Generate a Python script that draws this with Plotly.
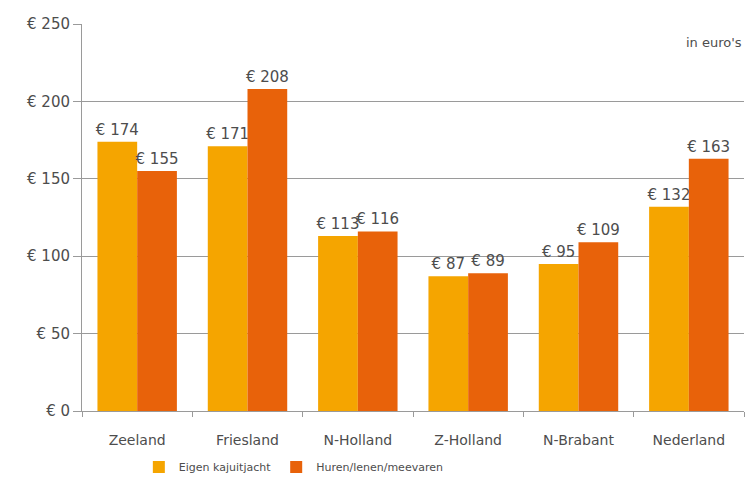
import plotly.graph_objects as go

categories = ["Zeeland", "Friesland", "N-Holland", "Z-Holland", "N-Brabant", "Nederland"]
eigen = [174, 171, 113, 87, 95, 132]
huren = [155, 208, 116, 89, 109, 163]
series_names = ["Eigen kajuitjacht", "Huren/lenen/meevaren"]
y_ticks = [0, 50, 100, 150, 200, 250]
y_tick_labels = ["€ " + str(v) for v in y_ticks]

font_family = "DejaVu Sans"
text_color = "#4d4d4d"

fig = go.Figure()
fig.add_trace(go.Bar(
    x=categories, y=eigen, name=series_names[0],
    marker=dict(color="#F5A500", line=dict(width=0)),
    text=["€ " + str(v) for v in eigen], textposition="outside",
    constraintext="none",
    textfont=dict(family=font_family, size=15, color=text_color),
    cliponaxis=False,
))
fig.add_trace(go.Bar(
    x=categories, y=huren, name=series_names[1],
    marker=dict(color="#E8620A", line=dict(width=0)),
    text=["€ " + str(v) for v in huren], textposition="outside",
    constraintext="none",
    textfont=dict(family=font_family, size=15, color=text_color),
    cliponaxis=False,
))

fig.update_layout(
    width=747, height=484,
    margin=dict(l=82, r=3, t=24, b=72),
    paper_bgcolor="white", plot_bgcolor="white",
    barmode="group", bargap=0.28, bargroupgap=0,
    font=dict(family=font_family, size=12, color=text_color),
    showlegend=True,
    legend=dict(orientation="h", x=0.32, xanchor="center", y=-0.142, yanchor="middle",
                font=dict(size=11, color=text_color),
                traceorder="normal"),
    annotations=[dict(text="in euro's", xref="paper", yref="paper", x=1.0, y=0.953,
                      xanchor="right", yanchor="middle", showarrow=False,
                      font=dict(size=13, color=text_color))],
)
fig.update_xaxes(
    showline=True, linecolor="#9a9a9a", linewidth=1,
    ticks="outside", tickson="boundaries", ticklen=5, tickcolor="#9a9a9a",
    tickfont=dict(size=14, color=text_color), ticklabelstandoff=16,
    showgrid=False, automargin=False,
)
fig.update_yaxes(
    range=[0, 250], tickvals=y_ticks, ticktext=y_tick_labels,
    showline=True, linecolor="#9a9a9a", linewidth=1,
    ticks="outside", ticklen=8, tickcolor="#9a9a9a",
    showgrid=True, gridcolor="#9a9a9a", gridwidth=1,
    tickfont=dict(size=15, color=text_color), zeroline=False,
    automargin=False,
)

fig.write_html("out.html",
               config={"displayModeBar": False},
               post_script="document.body.style.margin='0';document.body.style.overflow='hidden';")
